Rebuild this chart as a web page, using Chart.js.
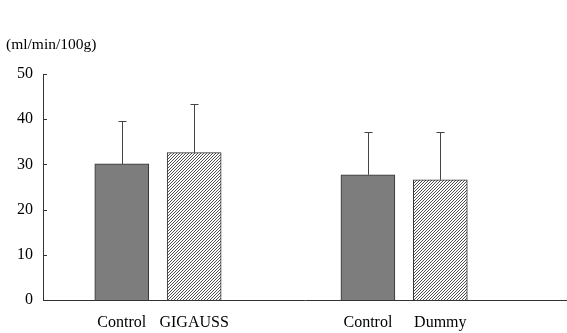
<!DOCTYPE html>
<html>
<head>
<meta charset="utf-8">
<script src="https://cdn.jsdelivr.net/npm/chart.js@4/dist/chart.umd.min.js"></script>
<style>
  html, body { margin: 0; padding: 0; background: #fff; }
  #chart { display: block; }
</style>
</head>
<body>
<canvas id="chart" width="567" height="333"></canvas>
<script>
// data
const categories = ['Control', 'GIGAUSS', 'Control', 'Dummy'];
const meanValues = [30.1, 32.6, 27.7, 26.6];
const sdValues = [9.5, 10.7, 9.5, 10.6];
const yTicks = [0, 10, 20, 30, 40, 50];
const unitLabel = '(ml/min/100g)';

// layout: where each bar sits on the x axis (two groups with a gap)
const slotX = [1, 2, 4.4, 5.4];
const serif = "'Liberation Serif', 'DejaVu Serif', serif";
const colorDark = '#7d7d7d';
const colorLine = '#333';

// hatched fill for the second bar of each pair
function makeHatch() {
    const n = 3;
    const c = document.createElement('canvas');
    c.width = n;
    c.height = n;
    const g = c.getContext('2d');
    g.fillStyle = '#fff';
    g.fillRect(0, 0, n, n);
    g.strokeStyle = '#3c3c3c';
    g.lineWidth = 0.9;
    g.beginPath();
    g.moveTo(0, n); g.lineTo(n, 0);
    g.moveTo(-1, 1); g.lineTo(1, -1);
    g.moveTo(n - 1, n + 1); g.lineTo(n + 1, n - 1);
    g.stroke();
    return g.createPattern(c, 'repeat');
}

const ctx = document.getElementById('chart').getContext('2d');
const hatch = makeHatch();

// error bars (upper only, with a cap)
const errorBars = {
    id: 'errorBars',
    afterDatasetsDraw(chart) {
        const x = chart.scales.x, y = chart.scales.y;
        const c = chart.ctx;
        c.save();
        c.strokeStyle = '#444';
        c.lineWidth = 1;
        meanValues.forEach((v, i) => {
            const px = Math.round(x.getPixelForValue(slotX[i])) + 0.5;
            const y0 = y.getPixelForValue(v);
            const y1 = Math.round(y.getPixelForValue(v + sdValues[i])) + 0.5;
            c.beginPath();
            c.moveTo(px, y0);
            c.lineTo(px, y1);
            c.moveTo(px - 4, y1);
            c.lineTo(px + 4, y1);
            c.stroke();
        });
        c.restore();
    }
};

// inward tick marks on the y axis + unit label
const axisExtras = {
    id: 'axisExtras',
    afterDraw(chart) {
        const y = chart.scales.y;
        const left = chart.chartArea.left;
        const c = chart.ctx;
        c.save();
        c.strokeStyle = colorLine;
        c.lineWidth = 1;
        y.ticks.forEach(t => {
            if (t.value === 0) return;
            const py = Math.round(y.getPixelForValue(t.value)) + 0.5;
            c.beginPath();
            c.moveTo(left, py);
            c.lineTo(left + 4, py);
            c.stroke();
        });
        c.fillStyle = '#000';
        c.font = '15.5px ' + serif;
        c.textBaseline = 'middle';
        c.fillText(unitLabel, 6, 45);
        c.restore();
    }
};

new Chart(ctx, {
    type: 'bar',
    data: {
        datasets: [{
            data: meanValues.map((v, i) => ({ x: slotX[i], y: v })),
            backgroundColor: [colorDark, hatch, colorDark, hatch],
            borderColor: colorLine,
            borderWidth: 1,
            barThickness: 54
        }]
    },
    options: {
        responsive: false,
        animation: false,
        layout: { padding: { top: 74, left: 0, right: 0, bottom: 0 } },
        scales: {
            x: {
                type: 'linear',
                offset: false,
                min: -0.088,
                max: 7.15,
                afterBuildTicks: (s) => { s.ticks = slotX.map(v => ({ value: v })); },
                afterFit: (s) => { s.height = 33; },
                grid: { display: false, drawTicks: false },
                border: { display: true, color: colorLine, width: 1 },
                ticks: {
                    autoSkip: false,
                    maxRotation: 0,
                    padding: 13,
                    color: '#000',
                    font: { family: serif, size: 16 },
                    callback: (v, i) => categories[i]
                }
            },
            y: {
                min: 0,
                max: 50,
                afterBuildTicks: (s) => { s.ticks = yTicks.map(v => ({ value: v })); },
                afterFit: (s) => { s.width = 43; },
                grid: { display: false, drawTicks: false },
                border: { display: true, color: colorLine, width: 1 },
                ticks: {
                    padding: 10,
                    color: '#000',
                    font: { family: serif, size: 16 }
                }
            }
        },
        plugins: {
            legend: { display: false },
            tooltip: { enabled: false }
        }
    },
    plugins: [errorBars, axisExtras]
});
</script>
</body>
</html>
